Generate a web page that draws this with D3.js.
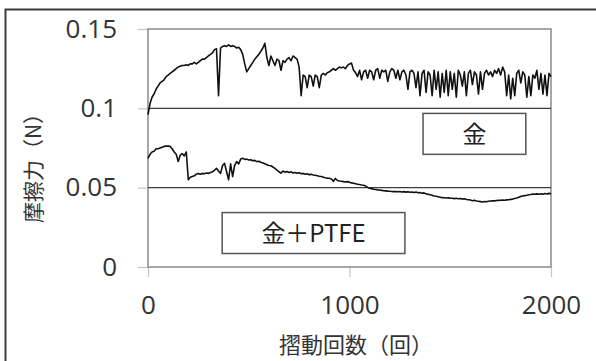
<!DOCTYPE html>
<html>
<head>
<meta charset="utf-8">
<script src="https://cdn.jsdelivr.net/npm/d3@7"></script>
<style>
  body { margin: 0; background: #fff; }
  svg { display: block; font-family: "Noto Sans CJK JP", "Noto Sans", sans-serif; }
</style>
</head>
<body>
<svg id="chart" width="596" height="361"></svg>
<script>
// Sliding count step between samples (回).
const step = 10;

// 金 friction force (N), one value every 10 cycles from 0 to 2000.
const goldForce = [
  0.096, 0.103, 0.107, 0.109, 0.112, 0.114, 0.116, 0.117, 0.118, 0.120,
  0.121, 0.122, 0.123, 0.124, 0.125, 0.126, 0.1265, 0.127, 0.127, 0.1275,
  0.127, 0.128, 0.128, 0.129, 0.128, 0.129, 0.130, 0.131, 0.131, 0.132,
  0.133, 0.134, 0.135, 0.137, 0.1375, 0.108, 0.138, 0.139, 0.1395, 0.139,
  0.140, 0.139, 0.1395, 0.139, 0.138, 0.1385, 0.137, 0.134, 0.128, 0.123,
  0.125, 0.127, 0.129, 0.131, 0.1325, 0.134, 0.136, 0.138, 0.141, 0.132,
  0.127, 0.133, 0.130, 0.127, 0.131, 0.130, 0.124, 0.130, 0.129, 0.131,
  0.132, 0.130, 0.133, 0.132, 0.131, 0.126, 0.108, 0.121, 0.120, 0.113,
  0.121, 0.120, 0.114, 0.121, 0.120, 0.113, 0.121, 0.122, 0.121, 0.1225,
  0.123, 0.124, 0.125, 0.124, 0.125, 0.126, 0.1255, 0.126, 0.125, 0.127,
  0.128, 0.1285, 0.124, 0.1225, 0.120, 0.124, 0.118, 0.123, 0.124, 0.119,
  0.124, 0.123, 0.118, 0.124, 0.125, 0.119, 0.124, 0.123, 0.124, 0.117,
  0.123, 0.125, 0.124, 0.119, 0.124, 0.118, 0.123, 0.124, 0.121, 0.112,
  0.123, 0.124, 0.122, 0.113, 0.123, 0.108, 0.122, 0.124, 0.110, 0.123,
  0.121, 0.108, 0.124, 0.112, 0.123, 0.107, 0.122, 0.110, 0.124, 0.108,
  0.123, 0.112, 0.122, 0.107, 0.124, 0.121, 0.114, 0.123, 0.108, 0.122,
  0.124, 0.115, 0.123, 0.121, 0.109, 0.123, 0.112, 0.122, 0.124, 0.121,
  0.123, 0.120, 0.124, 0.122, 0.125, 0.121, 0.126, 0.123, 0.108, 0.121,
  0.106, 0.119, 0.108, 0.122, 0.124, 0.116, 0.123, 0.121, 0.107, 0.120,
  0.108, 0.121, 0.119, 0.124, 0.112, 0.122, 0.109, 0.121, 0.108, 0.122,
  0.120
];

// 金＋PTFE friction force (N), same sampling.
const ptfeForce = [
  0.0685, 0.071, 0.0725, 0.073, 0.0745, 0.0745, 0.075, 0.0755, 0.076, 0.0762,
  0.0762, 0.076, 0.0745, 0.0725, 0.071, 0.0665, 0.0705, 0.0715, 0.070, 0.0725,
  0.055, 0.0565, 0.057, 0.0575, 0.0585, 0.059, 0.0585, 0.059, 0.0588, 0.0592,
  0.059, 0.0595, 0.060, 0.061, 0.0622, 0.0605, 0.059, 0.064, 0.0653, 0.060,
  0.055, 0.065, 0.057, 0.064, 0.0664, 0.065, 0.068, 0.0685, 0.0678, 0.068,
  0.0674, 0.0676, 0.067, 0.0672, 0.0664, 0.0666, 0.066, 0.0655, 0.065, 0.0645,
  0.064, 0.0638, 0.063, 0.0622, 0.061, 0.060, 0.0592, 0.0605, 0.0598, 0.0602,
  0.0596, 0.060, 0.0592, 0.0596, 0.0591, 0.0594, 0.0588, 0.059, 0.0585, 0.0588,
  0.0582, 0.0584, 0.058, 0.0578, 0.0575, 0.0572, 0.057, 0.0566, 0.0562, 0.056,
  0.0559, 0.0555, 0.054, 0.0558, 0.0545, 0.0542, 0.054, 0.0538, 0.0536, 0.0538,
  0.0534, 0.053, 0.0528, 0.0525, 0.0522, 0.052, 0.0517, 0.0515, 0.051, 0.0502,
  0.0496, 0.0494, 0.049, 0.0488, 0.0486, 0.0485, 0.0483, 0.0481, 0.048, 0.0478,
  0.0477, 0.0476, 0.0475, 0.0475, 0.0474, 0.0476, 0.0473, 0.0475, 0.0472, 0.0474,
  0.0471, 0.0473, 0.047, 0.0472, 0.0468, 0.047, 0.0465, 0.0467, 0.0461, 0.0458,
  0.0455, 0.0452, 0.0448, 0.0446, 0.0443, 0.044, 0.0437, 0.0436, 0.0435, 0.0436,
  0.0434, 0.0433, 0.0431, 0.0433, 0.043, 0.0432, 0.0428, 0.043, 0.0425, 0.0424,
  0.0422, 0.0418, 0.042, 0.0416, 0.0414, 0.0412, 0.041, 0.0413, 0.0411, 0.0414,
  0.0416, 0.0418, 0.0417, 0.0419, 0.042, 0.0421, 0.0422, 0.0421, 0.0423, 0.0424,
  0.0426, 0.0428, 0.0432, 0.0435, 0.044, 0.0445, 0.0448, 0.045, 0.0452, 0.0455,
  0.0457, 0.046, 0.0458, 0.0461, 0.0459, 0.0462, 0.0458, 0.0463, 0.046, 0.0464,
  0.0462
];

const xTicks = [0, 1000, 2000];
const yTicks = [0, 0.05, 0.1, 0.15];
const yTickLabels = ["0", "0.05", "0.1", "0.15"];
const gridValues = [0.05, 0.1];
const legendLabels = ["金", "金＋PTFE"];

const svg = d3.select("#chart");

// Outer frame (cut off at right and bottom like the source image).
svg.append("rect")
  .attr("x", 5.5).attr("y", 9.5).attr("width", 700).attr("height", 500)
  .attr("fill", "none").attr("stroke", "#3a3a3a").attr("stroke-width", 2);

const x = d3.scaleLinear().domain([0, 2000]).range([148, 551]);
const y = d3.scaleLinear().domain([0, 0.15]).range([267, 29]);

// Axes.
const yAxis = svg.append("g")
  .attr("transform", `translate(${x(0)},0)`)
  .call(d3.axisLeft(y).tickValues(yTicks).tickSize(10).tickPadding(21)
    .tickFormat((d, i) => yTickLabels[i]));
const xAxis = svg.append("g")
  .attr("transform", `translate(0,${y(0)})`)
  .call(d3.axisBottom(x).tickValues(xTicks).tickSize(10).tickPadding(19)
    .tickFormat(d3.format("d")));

for (const ax of [xAxis, yAxis]) {
  ax.select(".domain").remove();
  ax.selectAll(".tick line").attr("stroke", "#c4c4c4").attr("stroke-width", 1.2);
  ax.selectAll(".tick text")
    .attr("fill", "#333")
    .attr("font-size", 26)
    .attr("font-family", "'Open Sans', 'Noto Sans', sans-serif");
}

// Plot area border.
svg.append("rect")
  .attr("x", x(0)).attr("y", y(0.15))
  .attr("width", x(2000) - x(0)).attr("height", y(0) - y(0.15))
  .attr("fill", "none").attr("stroke", "#8a8a8a").attr("stroke-width", 1.5);

// Gridlines.
svg.append("g")
  .selectAll("line")
  .data(gridValues)
  .join("line")
  .attr("x1", x(0)).attr("x2", x(2000))
  .attr("y1", d => y(d)).attr("y2", d => y(d))
  .attr("stroke", "#3c3c3c").attr("stroke-width", 1.4);

// Series lines.
const line = d3.line()
  .x((d, i) => x(i * step))
  .y(d => y(d));

svg.append("path")
  .datum(goldForce)
  .attr("d", line)
  .attr("fill", "none").attr("stroke", "#111").attr("stroke-width", 1.6)
  .attr("stroke-linejoin", "round");

svg.append("path")
  .datum(ptfeForce)
  .attr("d", line)
  .attr("fill", "none").attr("stroke", "#111").attr("stroke-width", 1.6)
  .attr("stroke-linejoin", "round");

// Legend boxes.
const legendBoxes = [
  { label: legendLabels[0], x0: 1365, x1: 1875, y0: 0.0968, y1: 0.071 },
  { label: legendLabels[1], x0: 368, x1: 1275, y0: 0.0343, y1: 0.0085 }
];
const lg = svg.append("g")
  .selectAll("g")
  .data(legendBoxes)
  .join("g");
lg.append("rect")
  .attr("x", d => x(d.x0)).attr("y", d => y(d.y0))
  .attr("width", d => x(d.x1) - x(d.x0)).attr("height", d => y(d.y1) - y(d.y0))
  .attr("fill", "#fff").attr("stroke", "#555").attr("stroke-width", 1.5);
lg.append("text")
  .attr("x", d => (x(d.x0) + x(d.x1)) / 2)
  .attr("y", d => (y(d.y0) + y(d.y1)) / 2)
  .attr("dy", "0.36em")
  .attr("text-anchor", "middle")
  .attr("font-size", 24)
  .attr("fill", "#222")
  .text(d => d.label);

// Axis titles.
svg.append("text")
  .attr("transform", "translate(33,163) rotate(-90)")
  .attr("text-anchor", "middle")
  .attr("dy", "0.36em")
  .attr("font-size", 21)
  .attr("fill", "#333")
  .text("摩擦力（N）");

svg.append("text")
  .attr("x", 356).attr("y", 345)
  .attr("dy", "0.36em")
  .attr("text-anchor", "middle")
  .attr("font-size", 22)
  .attr("fill", "#333")
  .text("摺動回数（回）");
</script>
</body>
</html>
